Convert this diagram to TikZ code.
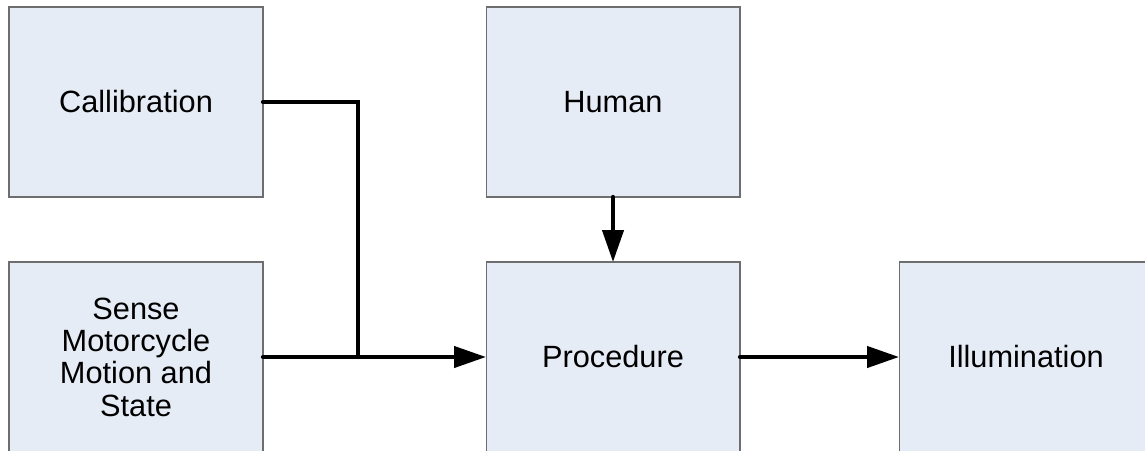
\documentclass[tikz,border=0pt]{standalone}
\usepackage{fontspec}
\setmainfont{Liberation Sans}
\usepackage{xcolor}
\usetikzlibrary{arrows.meta}

\definecolor{boxfill}{RGB}{230,236,246}
\definecolor{boxline}{RGB}{110,110,110}

\tikzset{
	block/.style={rectangle,draw=boxline,fill=boxfill,line width=0.6pt,
		minimum width=5.08cm,minimum height=3.8cm,inner sep=0pt,outer sep=0pt,
		align=center,font=\fontsize{17.5}{18.4}\selectfont},
	wire/.style={line width=2.4pt,draw=black,line cap=round},
	flow/.style={wire,-{Triangle[length=0.64cm,width=0.42cm]}}
}

\begin{document}
\begin{tikzpicture}[x=0.02cm,y=-0.02cm]
	\clip (0,0) rectangle (1145,450);
	\node[block] (cal) at (136,102) {Callibration};
	\node[block] (sense) at (136,357) {Sense\\Motorcycle\\Motion and\\State};
	\node[block] (human) at (613,102) {Human};
	\node[block] (proc) at (613,357) {Procedure};
	\node[block] (illum) at (1026,357) {Illumination};
	\coordinate (join) at (358,357);
	\draw[wire] (cal.east) -| (join);
	\draw[flow] (sense.east) -- (proc.west);
	\draw[flow] (human.south) -- (proc.north);
	\draw[flow] (proc.east) -- (illum.west);
\end{tikzpicture}
\end{document}
